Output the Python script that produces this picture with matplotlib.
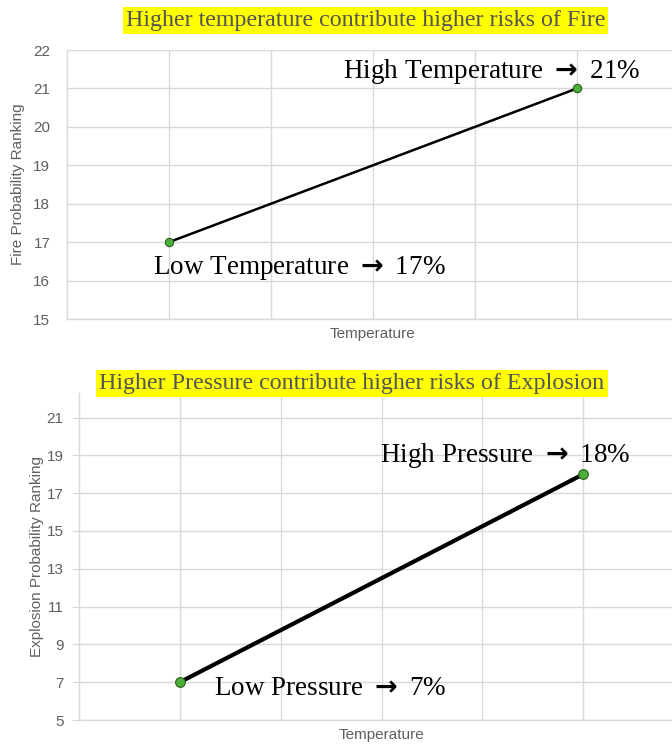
import matplotlib
matplotlib.use("Agg")
import matplotlib.pyplot as plt

plt.rcParams["mathtext.fontset"] = "dejavusans"

# Data
ARROW = r"$\mathbf{\rightarrow}$"
temp_x = [1, 5]
fire_vals = [17, 21]
fire_labels = ["Low Temperature " + ARROW + " 17%", "High Temperature " + ARROW + " 21%"]
pres_x = [1, 5]
expl_vals = [7, 18]
expl_labels = ["Low Pressure " + ARROW + " 7%", "High Pressure " + ARROW + " 18%"]
fire_ticks = [15, 16, 17, 18, 19, 20, 21, 22]
expl_ticks = [5, 7, 9, 11, 13, 15, 17, 19, 21]
title_top = "Higher temperature contribute higher risks of Fire"
title_bot = "Higher Pressure contribute higher risks of Explosion"

W, H = 672, 744
fig = plt.figure(figsize=(W / 100, H / 100), dpi=100)

GRID = "#d9d9d9"
TICKC = "#5f5f5f"
SERIF = ["Liberation Serif", "DejaVu Serif"]
SANS = ["Liberation Sans", "DejaVu Sans"]


def px_axes(left, top, right, bottom):
    return fig.add_axes([left / W, 1 - bottom / H, (right - left) / W, (bottom - top) / H])


def style(ax, yticks, ylim, ylabel, ylabel_x):
    ax.set_xlim(0, 6)
    ax.set_ylim(*ylim)
    ax.set_yticks(yticks)
    ax.set_xticks([1, 2, 3, 4, 5, 6])
    ax.set_xticklabels([])
    ax.grid(True, color=GRID, linewidth=1)
    ax.set_axisbelow(True)
    for s in ["top", "right"]:
        ax.spines[s].set_visible(False)
    for s in ["left", "bottom"]:
        ax.spines[s].set_color(GRID)
        ax.spines[s].set_linewidth(1)
    ax.tick_params(axis="x", length=0)
    ax.tick_params(axis="y", length=0, colors=TICKC, labelsize=11, pad=12)
    for lab in ax.get_yticklabels():
        lab.set_family(SANS)
    ax.set_xlabel("Temperature", color=TICKC, fontsize=11, family=SANS, labelpad=2)
    ax.set_ylabel(ylabel, color=TICKC, fontsize=11, family=SANS)
    ax.yaxis.set_label_coords(ylabel_x, 0.5)


# Top chart
ax1 = px_axes(67, 50, 679, 319)
style(ax1, fire_ticks, (15, 22), "Fire Probability Ranking", -0.068)
ax1.plot(temp_x, fire_vals, color="black", linewidth=1.8, marker="o", markersize=6,
         markerfacecolor="#4caf3a", markeredgecolor="#2e5e1e", markeredgewidth=0.8, zorder=3)
ax1.text(4.16, 21.43, fire_labels[1], ha="center", va="center", fontsize=19.5, family=SERIF)
ax1.text(2.28, 16.33, fire_labels[0], ha="center", va="center", fontsize=19.5, family=SERIF)

# Bottom chart
ax2 = px_axes(79, 393, 684, 720)
style(ax2, expl_ticks, (5, 22.3), "Explosion Probability Ranking", -0.058)
ax2.tick_params(axis="y", length=5, color=GRID, pad=6)
ax2.plot(pres_x, expl_vals, color="black", linewidth=3, marker="o", markersize=7,
         markerfacecolor="#4caf3a", markeredgecolor="#2e5e1e", markeredgewidth=0.8, zorder=3)
ax2.text(4.23, 19.0, expl_labels[1], ha="center", va="center", fontsize=19.5, family=SERIF)
ax2.text(2.495, 6.69, expl_labels[0], ha="center", va="center", fontsize=19.5, family=SERIF)

# Titles with yellow highlight
fig.text(365.5 / W, 1 - 20.5 / H, title_top, ha="center", va="center", fontsize=17.3,
         family=SERIF, color="#555555",
         bbox=dict(boxstyle="square,pad=0.12", facecolor="#ffff00", edgecolor="none"))
fig.text(352 / W, 1 - 383.5 / H, title_bot, ha="center", va="center", fontsize=17.3,
         family=SERIF, color="#555555",
         bbox=dict(boxstyle="square,pad=0.12", facecolor="#ffff00", edgecolor="none"))

fig.savefig("out.png", dpi=100)
